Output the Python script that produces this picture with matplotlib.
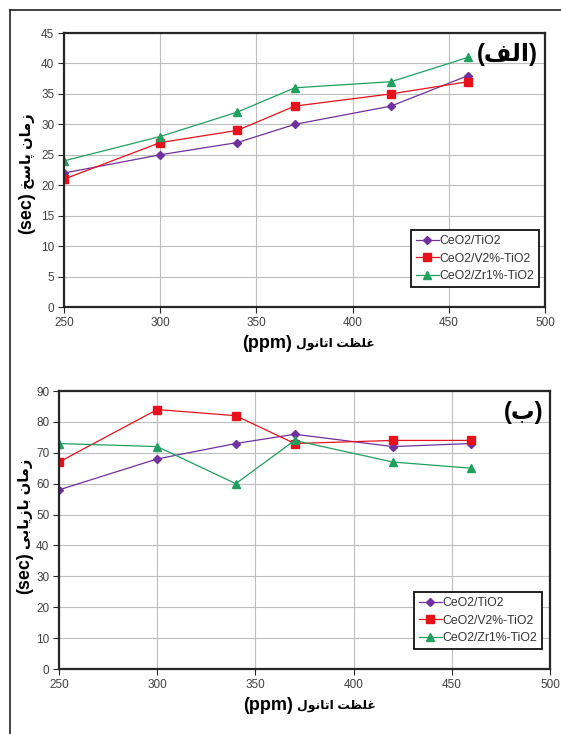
import numpy as np
import matplotlib
matplotlib.use("Agg")
import matplotlib.pyplot as plt
from matplotlib.lines import Line2D

plt.rcParams['font.family'] = ['Liberation Sans', 'DejaVu Sans']

# data
ethanol_ppm = [250, 300, 340, 370, 420, 460]
series_names = ["CeO2/TiO2", "CeO2/V2%-TiO2", "CeO2/Zr1%-TiO2"]

response_tio2 = [22, 25, 27, 30, 33, 38]
response_v2   = [21, 27, 29, 33, 35, 37]
response_zr1  = [24, 28, 32, 36, 37, 41]

recovery_tio2 = [58, 68, 73, 76, 72, 73]
recovery_v2   = [67, 84, 82, 73, 74, 74]
recovery_zr1  = [73, 72, 60, 74, 67, 65]

x_ticks = [250, 300, 350, 400, 450, 500]
resp_ticks = list(range(0, 46, 5))
rec_ticks = list(range(0, 91, 10))

# persian text: matplotlib has no shaping, so pick presentation forms by hand
# (isolated, final, initial, medial)
AR = {
    'ا': ('\ufe8d', '\ufe8e', None, None),
    'ب': ('\ufe8f', '\ufe90', '\ufe91', '\ufe92'),
    'ت': ('\ufe95', '\ufe96', '\ufe97', '\ufe98'),
    'خ': ('\ufea5', '\ufea6', '\ufea7', '\ufea8'),
    'ز': ('\ufeaf', '\ufeb0', None, None),
    'س': ('\ufeb1', '\ufeb2', '\ufeb3', '\ufeb4'),
    'ظ': ('\ufec5', '\ufec6', '\ufec7', '\ufec8'),
    'غ': ('\ufecd', '\ufece', '\ufecf', '\ufed0'),
    'ف': ('\ufed1', '\ufed2', '\ufed3', '\ufed4'),
    'ل': ('\ufedd', '\ufede', '\ufedf', '\ufee0'),
    'م': ('\ufee1', '\ufee2', '\ufee3', '\ufee4'),
    'ن': ('\ufee5', '\ufee6', '\ufee7', '\ufee8'),
    'و': ('\ufeed', '\ufeee', None, None),
    'پ': ('\ufb56', '\ufb57', '\ufb58', '\ufb59'),
    'ی': ('\ufbfc', '\ufbfd', '\ufbfe', '\ufbff'),
}

def fa(text):
    out = []
    for i, ch in enumerate(text):
        if ch not in AR:
            out.append(ch)
            continue
        iso, fin, ini, med = AR[ch]
        prev = text[i-1] if i > 0 else ''
        nxt = text[i+1] if i + 1 < len(text) else ''
        jp = prev in AR and AR[prev][2] is not None
        jn = ini is not None and nxt in AR
        if jp and jn:
            out.append(med)
        elif jp:
            out.append(fin)
        elif jn:
            out.append(ini)
        else:
            out.append(iso)
    return ''.join(reversed(out))

xlabel_fa = fa("غلظت اتانول")
ylabel_top_fa = fa("زمان پاسخ")
ylabel_bot_fa = fa("زمان بازیابی")
tag_top = "(" + fa("الف") + ")"
tag_bot = "(" + fa("ب") + ")"

purple = '#7030A0'
red = '#E8101A'
green = '#1FA05E'
styles = [dict(color=purple, marker='D', markersize=4.4),
          dict(color=red, marker='s', markersize=6.4),
          dict(color=green, marker='^', markersize=6.4)]

fig = plt.figure(figsize=(5.61, 7.34), dpi=100)

# outer frame (top and left edges visible in the page)
fig.add_artist(Line2D([9.5/561, 9.5/561], [0, 1 - 10/734], color='#222222', lw=1.2))
fig.add_artist(Line2D([9.5/561, 1], [1 - 10/734, 1 - 10/734], color='#222222', lw=1.2))

ax1 = fig.add_axes([64/561, 1 - 307/734, 481/561, 274/734])
ax2 = fig.add_axes([59/561, 65/734, 491/561, 278/734])

def style(ax, yticks, ymax, ylab_fa, tag, tag_xy, xl_pos, yl_pos, legend_anchor):
    ax.set_xlim(250, 500)
    ax.set_ylim(0, ymax)
    ax.set_xticks(x_ticks)
    ax.set_yticks(yticks)
    ax.grid(True, color='#BDBDBD', lw=0.8)
    ax.set_axisbelow(True)
    for sp in ax.spines.values():
        sp.set_color('#262626')
        sp.set_linewidth(1.6)
    ax.tick_params(labelsize=8.5, colors='#262626', labelcolor='#404040',
                   length=4, width=0.8, pad=3)
    # axis titles: latin unit part and persian part sized separately
    xs, xy = xl_pos
    ax.text(xs, xy, "(ppm)", transform=ax.transAxes, ha='right', va='center',
            fontsize=13, fontweight='bold')
    ax.text(xs + 0.008, xy, xlabel_fa, transform=ax.transAxes, ha='left',
            va='center', fontsize=8.9, fontweight='bold')
    yx, ys = yl_pos
    ax.text(yx, ys, "(sec)", transform=ax.transAxes, ha='center', va='top',
            rotation=90, fontsize=13, fontweight='bold')
    ax.text(yx, ys + 0.012, ylab_fa, transform=ax.transAxes, ha='center',
            va='bottom', rotation=90, fontsize=10.5, fontweight='bold')
    ax.text(tag_xy[0], tag_xy[1], tag, transform=ax.transAxes, ha='right',
            va='center', fontsize=17, fontweight='bold')
    leg = ax.legend(loc='lower right', bbox_to_anchor=legend_anchor,
                    borderaxespad=0, fontsize=8.8, fancybox=False,
                    edgecolor='#111111', framealpha=1, handlelength=1.9,
                    handletextpad=0.05, labelspacing=0.45, borderpad=0.4)
    leg.get_frame().set_linewidth(1.3)
    for t in leg.get_texts():
        t.set_color('#333333')

for ys, st, name in zip([response_tio2, response_v2, response_zr1], styles, series_names):
    ax1.plot(ethanol_ppm, ys, lw=0.9, label=name, **st)
for ys, st, name in zip([recovery_tio2, recovery_v2, recovery_zr1], styles, series_names):
    ax2.plot(ethanol_ppm, ys, lw=0.9, label=name, **st)

style(ax1, resp_ticks, 45, ylabel_top_fa, tag_top, (0.9855, 0.92),
      (0.474, -0.135), (-0.077, 0.42), (1 - 6/481, 20/274))
style(ax2, rec_ticks, 90, ylabel_bot_fa, tag_bot, (0.9857, 0.921),
      (0.476, -0.131), (-0.069, 0.421), (1 - 8/491, 20/278))

fig.savefig("out.png", dpi=100)
